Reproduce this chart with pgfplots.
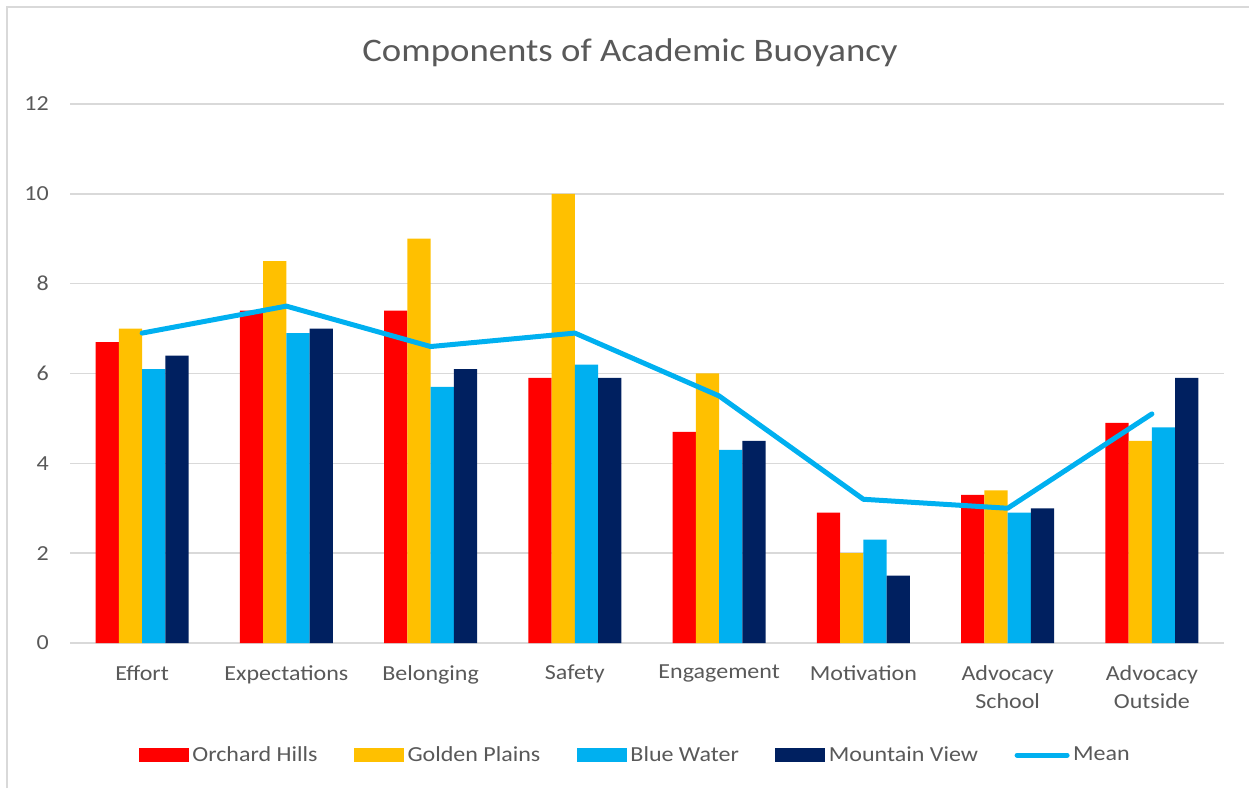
\documentclass[border=0pt]{standalone}
\usepackage{pgfplots}
\usepackage{pgfplotstable}
\pgfplotsset{compat=1.18}
\usepackage{fontspec}
\setmainfont{Carlito}[FakeStretch=1.12]

\definecolor{ohred}{HTML}{FF0000}
\definecolor{gpgold}{HTML}{FFC000}
\definecolor{bwblue}{HTML}{00B0F0}
\definecolor{mvnavy}{HTML}{002060}
\definecolor{gridgrey}{HTML}{D9D9D9}
\definecolor{txtgrey}{HTML}{595959}

% category index, four schools, mean
\pgfplotstableread{
x oh gp bw mv mean
0 6.7 7.0 6.1 6.4 6.9
1 7.4 8.5 6.9 7.0 7.5
2 7.4 9.0 5.7 6.1 6.6
3 5.9 10.0 6.2 5.9 6.9
4 4.7 6.0 4.3 4.5 5.5
5 2.9 2.0 2.3 1.5 3.2
6 3.3 3.4 2.9 3.0 3.0
7 4.9 4.5 4.8 5.9 5.1
}\buoyancy

\begin{document}
\begin{tikzpicture}
\useasboundingbox (0,0) rectangle (24.98cm,15.76cm);
\draw[gridgrey, line width=0.04cm] (0.14cm,0) -- (0.14cm,15.62cm) -- (24.98cm,15.62cm);
\node[font=\fontsize{18.7}{22}\selectfont, text=txtgrey] at (12.6cm,14.70cm) {Components of Academic Buoyancy};
\begin{axis}[
    at={(1.4cm,2.9cm)}, anchor=south west,
    scale only axis,
    width=23.08cm, height=10.78cm,
    xmin=-0.5, xmax=7.5,
    ymin=0, ymax=12,
    ytick={0,2,...,12},
    xtick={0,...,7},
    xticklabels={Effort,Expectations,Belonging,Safety,Engagement,Motivation,{Advocacy\\School},{Advocacy\\Outside}},
    axis line style={draw=none},
    major tick length=0pt,
    ymajorgrids,
    grid style={gridgrey, line width=0.03cm},
    tick label style={text=txtgrey},
    xticklabel style={align=center, font=\fontsize{12.2}{16.4}\selectfont, yshift=-0.32cm},
    yticklabel style={font=\fontsize{12.2}{14}\selectfont, xshift=-0.3cm},
    /pgf/number format/assume math mode=true,
    legend columns=5,
    legend style={at={(0.4905,-0.208)}, anchor=center, draw=none,
        font=\fontsize{12.2}{14}\selectfont, text=txtgrey,
        /tikz/every even column/.append style={column sep=0.66cm}},
    clip=false,
]
\addplot[ybar, bar width=0.466cm, bar shift=-0.699cm, fill=ohred, draw=none,
    legend image code/.code={\fill[ohred] (0cm,-0.14cm) rectangle (1cm,0.14cm);}]
    table[x=x, y=oh] {\buoyancy};
\addlegendentry{Orchard Hills}
\addplot[ybar, bar width=0.466cm, bar shift=-0.233cm, fill=gpgold, draw=none,
    legend image code/.code={\fill[gpgold] (0cm,-0.14cm) rectangle (1cm,0.14cm);}]
    table[x=x, y=gp] {\buoyancy};
\addlegendentry{Golden Plains}
\addplot[ybar, bar width=0.466cm, bar shift=0.233cm, fill=bwblue, draw=none,
    legend image code/.code={\fill[bwblue] (0cm,-0.14cm) rectangle (1cm,0.14cm);}]
    table[x=x, y=bw] {\buoyancy};
\addlegendentry{Blue Water}
\addplot[ybar, bar width=0.466cm, bar shift=0.699cm, fill=mvnavy, draw=none,
    legend image code/.code={\fill[mvnavy] (0cm,-0.14cm) rectangle (1cm,0.14cm);}]
    table[x=x, y=mv] {\buoyancy};
\addlegendentry{Mountain View}
\addplot[sharp plot, bwblue, line width=0.1cm, line cap=round, line join=round, mark=none,
    legend image code/.code={\draw[bwblue, line width=0.1cm, line cap=round] (0cm,0cm) -- (1cm,0cm);}]
    table[x=x, y=mean] {\buoyancy};
\addlegendentry{Mean}
\end{axis}
\end{tikzpicture}
\end{document}
